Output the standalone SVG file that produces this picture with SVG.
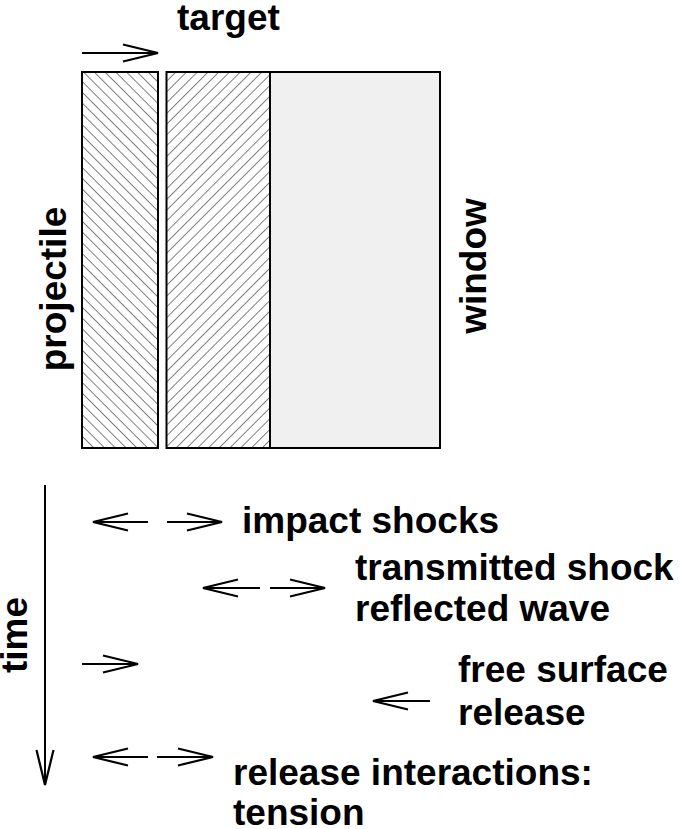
<svg xmlns="http://www.w3.org/2000/svg" width="681" height="829" viewBox="0 0 681 829">
  <style>
    .lbl { font-family: "Liberation Sans", Arial, Helvetica, sans-serif; font-weight: bold; font-size: 37px; fill: #000; }
    .box { stroke: #000; stroke-width: 2; }
    .arr { stroke: #000; stroke-width: 2; fill: none; }
  </style>
  <defs>
    <pattern id="hatchBack" patternUnits="userSpaceOnUse" width="7.6" height="7.6" patternTransform="rotate(-45)">
      <rect width="7.6" height="7.6" fill="#fff"/>
      <line x1="0" y1="0" x2="0" y2="7.6" stroke="#000" stroke-width="1"/>
    </pattern>
    <pattern id="hatchFwd" patternUnits="userSpaceOnUse" width="7.6" height="7.6" patternTransform="rotate(45)">
      <rect width="7.6" height="7.6" fill="#fff"/>
      <line x1="0" y1="0" x2="0" y2="7.6" stroke="#000" stroke-width="1"/>
    </pattern>
    <marker id="head" markerUnits="userSpaceOnUse" viewBox="-36 -10 38 20" refX="0" refY="0" markerWidth="38" markerHeight="20" orient="auto" overflow="visible">
      <path d="M-35,-8.5 L0,0 L-35,8.5" fill="none" stroke="#000" stroke-width="2.2"/>
    </marker>
  </defs>

  <g id="projectile">
    <rect class="box" x="82" y="72" width="76" height="376" fill="url(#hatchBack)"/>
    <text class="lbl" transform="translate(66,289) rotate(-90)" text-anchor="middle">projectile</text>
  </g>
  <g id="target">
    <rect class="box" x="166.5" y="72" width="103.5" height="376" fill="url(#hatchFwd)"/>
    <text class="lbl" x="177" y="30">target</text>
  </g>
  <g id="window">
    <rect class="box" x="270" y="72" width="170" height="376" fill="#f0f0f0"/>
    <text class="lbl" transform="translate(486,266) rotate(-90)" text-anchor="middle">window</text>
  </g>

  <g id="time">
    <text class="lbl" transform="translate(27,635) rotate(-90)" text-anchor="middle">time</text>
  </g>

  <g id="labels">
    <text class="lbl" x="242" y="533">impact shocks</text>
    <text class="lbl" x="355" y="580">transmitted shock</text>
    <text class="lbl" x="355" y="621">reflected wave</text>
    <text class="lbl" x="458" y="682">free surface</text>
    <text class="lbl" x="458" y="725">release</text>
    <text class="lbl" x="233" y="785">release interactions:</text>
    <text class="lbl" x="233" y="825">tension</text>
  </g>

  <g id="connectors">
    <line class="arr" x1="82" y1="53" x2="158" y2="53" marker-end="url(#head)"/>
    <line class="arr" x1="45" y1="485" x2="45" y2="785" marker-end="url(#head)"/>
    <line class="arr" x1="148" y1="522" x2="93" y2="522" marker-end="url(#head)"/>
    <line class="arr" x1="167" y1="522" x2="222" y2="522" marker-end="url(#head)"/>
    <line class="arr" x1="260" y1="588" x2="203" y2="588" marker-end="url(#head)"/>
    <line class="arr" x1="270" y1="588" x2="325" y2="588" marker-end="url(#head)"/>
    <line class="arr" x1="82" y1="664" x2="138" y2="664" marker-end="url(#head)"/>
    <line class="arr" x1="430" y1="701" x2="373" y2="701" marker-end="url(#head)"/>
    <line class="arr" x1="148" y1="757" x2="93" y2="757" marker-end="url(#head)"/>
    <line class="arr" x1="157" y1="757" x2="213" y2="757" marker-end="url(#head)"/>
  </g>
</svg>
